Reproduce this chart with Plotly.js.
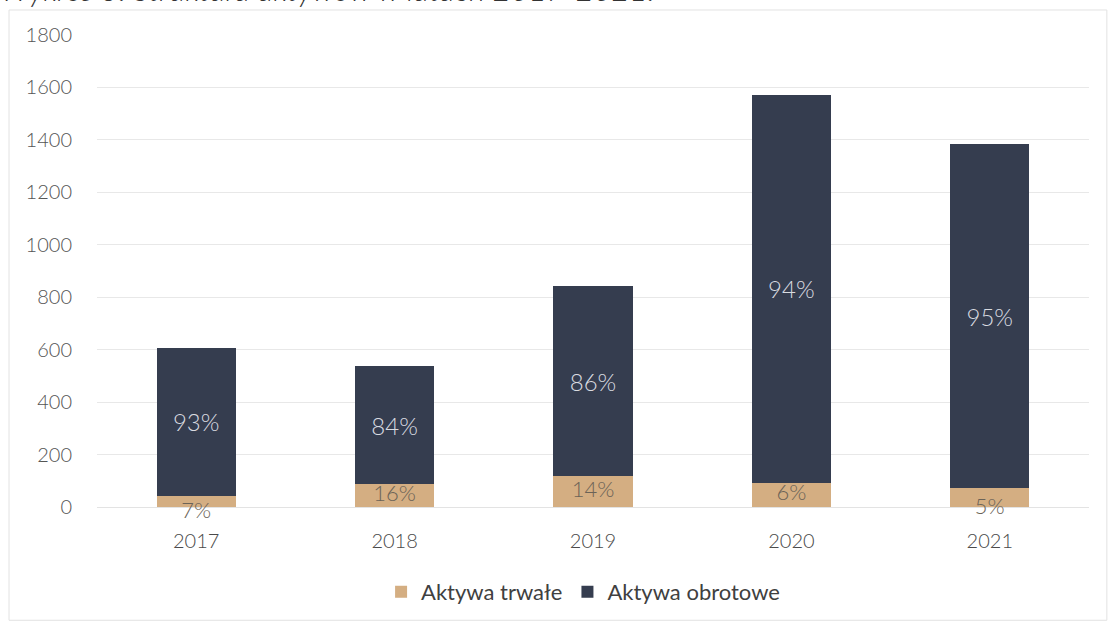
<!DOCTYPE html>
<html>
<head>
<meta charset="utf-8">
<script src="https://cdn.plot.ly/plotly-3.0.1.min.js"></script>
<style>html,body{margin:0;padding:0;background:#fff;overflow:hidden;}</style>
</head>
<body>
<div id="chart" style="width:1112px;height:624px;"></div>
<script>
const years = ['2017', '2018', '2019', '2020', '2021'];
const aktywaTrwale = [43, 86, 117, 93, 72];
const aktywaObrotowe = [563, 450, 724, 1479, 1312];
const labelsTrwale = ['7%', '16%', '14%', '6%', '5%'];
const labelsObrotowe = ['93%', '84%', '86%', '94%', '95%'];
const yTicks = [0, 200, 400, 600, 800, 1000, 1200, 1400, 1600, 1800];
const titleText = 'Wykres 3. Struktura aktywów w latach 2017-2021.';

const FONT = 'Lato, "Open Sans", sans-serif';
const trwaleLabelY = aktywaTrwale.map(v => v / 2);
const trwaleLabelPos = ['bottom center', 'middle center', 'middle center', 'middle center', 'bottom center'];

const data = [
  {
    type: 'bar', name: 'Aktywa trwałe', x: years, y: aktywaTrwale,
    marker: {color: '#d4ae82'}, textposition: 'none', hoverinfo: 'x+y'
  },
  {
    type: 'bar', name: 'Aktywa obrotowe', x: years, y: aktywaObrotowe,
    marker: {color: '#353d4f'}, text: labelsObrotowe, textposition: 'inside',
    insidetextanchor: 'middle', constraintext: 'none', textangle: 0,
    textfont: {family: FONT, size: 24, color: '#d9dbe0', weight: 300}
  },
  {
    type: 'scatter', mode: 'text', x: years, y: trwaleLabelY, text: labelsTrwale,
    textposition: trwaleLabelPos, showlegend: false, hoverinfo: 'skip',
    textfont: {family: FONT, size: 22, color: '#6b6357', weight: 300}, cliponaxis: false
  }
];

const layout = {
  width: 1112, height: 624,
  margin: {l: 97, r: 23, t: 35, b: 117, autoexpand: false},
  paper_bgcolor: '#ffffff', plot_bgcolor: '#ffffff',
  barmode: 'stack', bargap: 0.6,
  font: {family: FONT, color: '#595959'},
  showlegend: true,
  legend: {
    orientation: 'h', x: 0.49, xanchor: 'center',
    y: -0.18, yanchor: 'middle', traceorder: 'normal',
    font: {family: FONT, size: 22, color: '#404040'}
  },
  xaxis: {
    type: 'category', showgrid: false, zeroline: false, showline: false,
    ticks: '', ticklabelstandoff: 20,
    tickfont: {family: FONT, size: 20, color: '#4a4a4a', weight: 300}
  },
  yaxis: {
    range: [0, 1800], tickvals: yTicks, showgrid: true, gridcolor: '#e8e8e8', gridwidth: 1,
    zeroline: true, zerolinecolor: '#e3e3e3', zerolinewidth: 1, showline: false, ticks: '',
    ticklabelstandoff: 24,
    tickfont: {family: FONT, size: 20, color: '#555555', weight: 300}
  },
  shapes: [{
    type: 'rect', xref: 'paper', yref: 'paper',
    x0: -0.0887, x1: 1.018, y0: -0.24, y1: 1.053,
    line: {color: '#e2e2e2', width: 1}, fillcolor: 'rgba(0,0,0,0)', layer: 'below'
  }],
  annotations: [{
    text: titleText, xref: 'paper', yref: 'paper',
    x: -0.1, xanchor: 'left', y: 1.052, yanchor: 'bottom', showarrow: false,
    font: {family: FONT, size: 31, color: '#333333', style: 'italic', weight: 300}
  }]
};

Plotly.newPlot('chart', data, layout, {displayModeBar: false, staticPlot: true});
</script>
</body>
</html>
